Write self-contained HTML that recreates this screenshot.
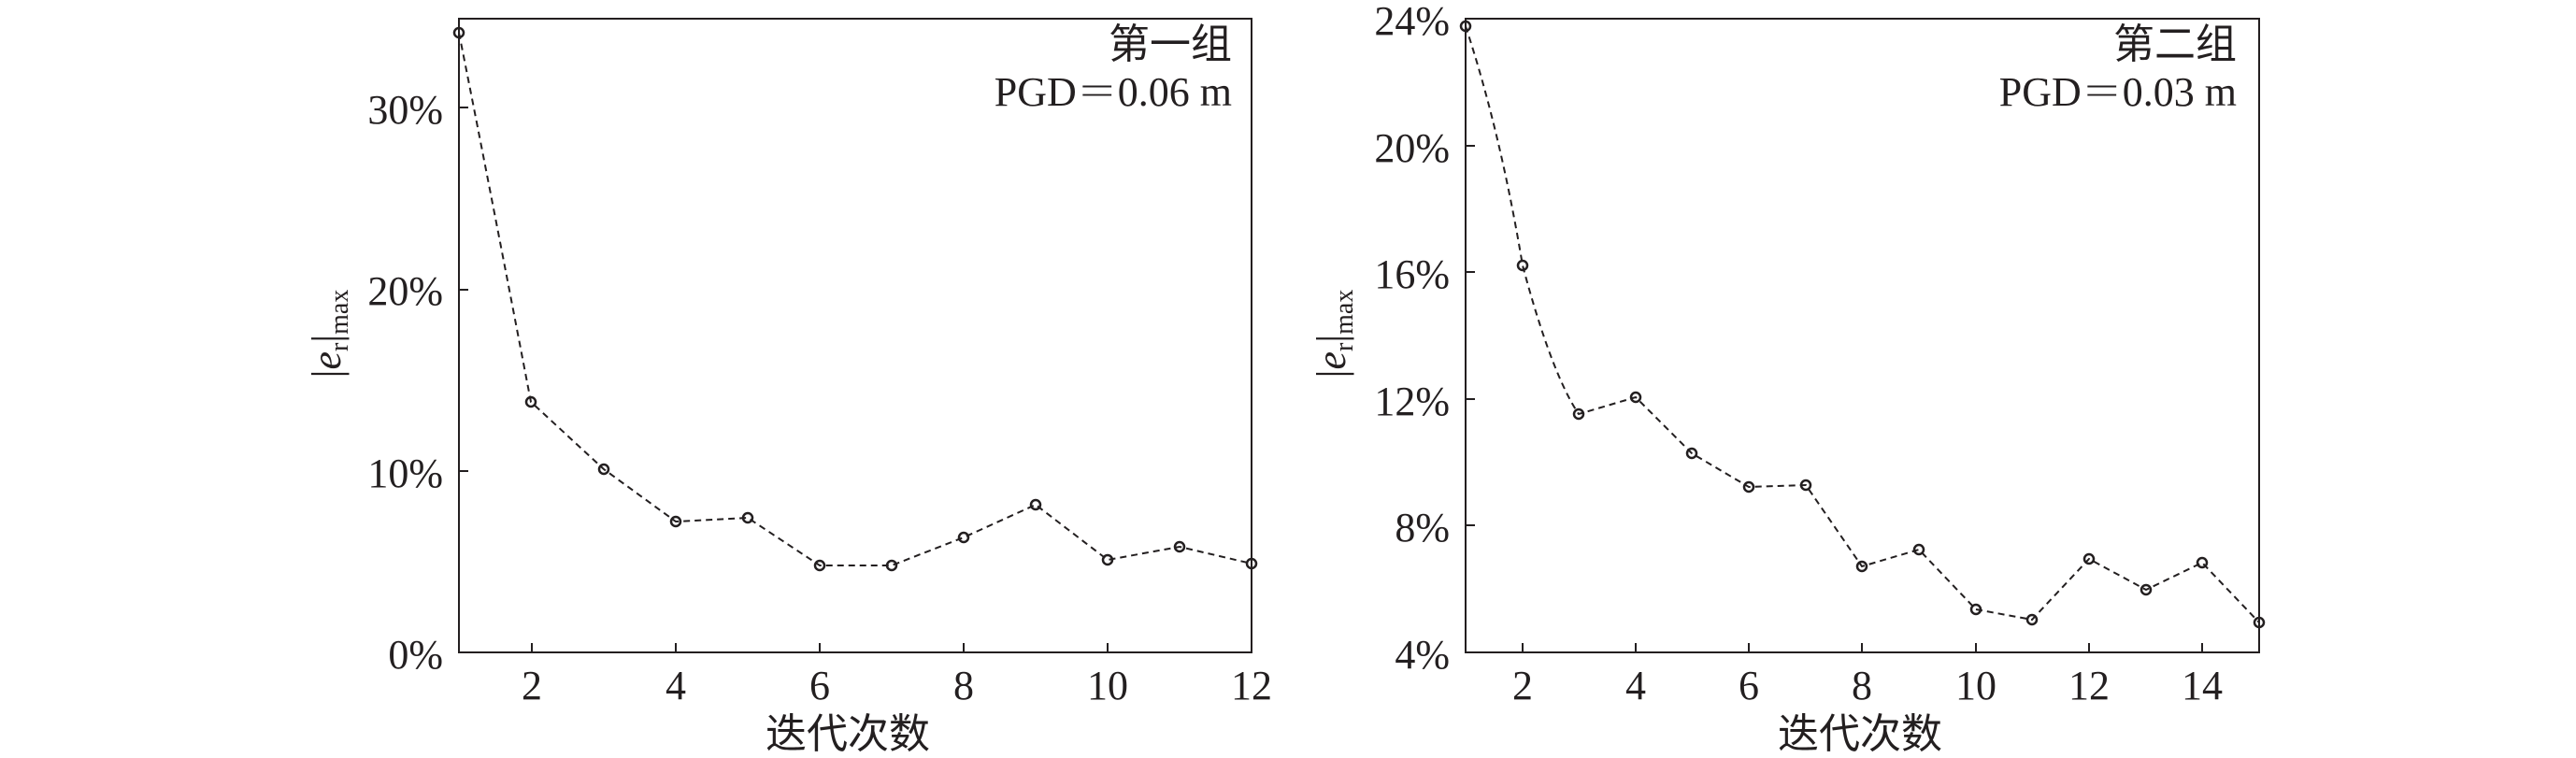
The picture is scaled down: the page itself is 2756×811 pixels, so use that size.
<!DOCTYPE html>
<html><head><meta charset="utf-8"><style>
html,body{margin:0;padding:0;background:#fff;}
svg{display:block;}
text{font-family:"Liberation Serif","Noto Serif CJK SC",serif;fill:#231f20;}
.cj{font-family:"Liberation Serif","Noto Sans CJK SC",sans-serif;}
</style></head><body>
<svg width="2756" height="811" viewBox="0 0 2756 811" xmlns="http://www.w3.org/2000/svg">
<g stroke="#231f20" fill="none">
<!-- chart 1 -->
<rect x="491" y="20" width="848" height="678" stroke-width="2"/>
<g stroke-width="2">
<path d="M491 115h10M491 310h10M491 504h10"/>
<path d="M569 698v-10M723 698v-10M877 698v-10M1031 698v-10M1185 698v-10"/>
</g>
<path stroke-width="2" stroke-dasharray="7,5" d="M491 35 Q520 180 568 430 L646 502 L723 558 L800 554 L877 605 L954 605 L1031 575 L1108 540 L1185 599 L1262 585 L1339 603"/>
<g stroke-width="2.5">
<circle cx="491" cy="35" r="5"/><circle cx="568" cy="430" r="5"/><circle cx="646" cy="502" r="5"/><circle cx="723" cy="558" r="5"/><circle cx="800" cy="554" r="5"/><circle cx="877" cy="605" r="5"/><circle cx="954" cy="605" r="5"/><circle cx="1031" cy="575" r="5"/><circle cx="1108" cy="540" r="5"/><circle cx="1185" cy="599" r="5"/><circle cx="1262" cy="585" r="5"/><circle cx="1339" cy="603" r="5"/>
</g>
<!-- chart 2 -->
<rect x="1568" y="20" width="849" height="678" stroke-width="2"/>
<g stroke-width="2">
<path d="M1568 156h10M1568 291h10M1568 427h10M1568 562h10"/>
<path d="M1629 698v-10M1750 698v-10M1871 698v-10M1992 698v-10M2114 698v-10M2235 698v-10M2356 698v-10"/>
</g>
<path stroke-width="2" stroke-dasharray="7,5" d="M1568 28 Q1605 140 1629 284 Q1660 400 1689 443 L1750 425 L1810 485 L1871 521 L1932 519 L1992 606 L2053 588 L2114 652 L2174 663 L2235 598 L2296 631 L2356 602 L2417 666"/>
<g stroke-width="2.5">
<circle cx="1568" cy="28" r="5"/><circle cx="1629" cy="284" r="5"/><circle cx="1689" cy="443" r="5"/><circle cx="1750" cy="425" r="5"/><circle cx="1810" cy="485" r="5"/><circle cx="1871" cy="521" r="5"/><circle cx="1932" cy="519" r="5"/><circle cx="1992" cy="606" r="5"/><circle cx="2053" cy="588" r="5"/><circle cx="2114" cy="652" r="5"/><circle cx="2174" cy="663" r="5"/><circle cx="2235" cy="598" r="5"/><circle cx="2296" cy="631" r="5"/><circle cx="2356" cy="602" r="5"/><circle cx="2417" cy="666" r="5"/>
</g>
</g>
<g font-size="44">
<g text-anchor="end">
<text x="474" y="715">0%</text><text x="474" y="521">10%</text><text x="474" y="326">20%</text><text x="474" y="132">30%</text>
<text x="1551" y="715">4%</text><text x="1551" y="579">8%</text><text x="1551" y="444">12%</text><text x="1551" y="308">16%</text><text x="1551" y="173">20%</text><text x="1551" y="37">24%</text>
</g>
<g text-anchor="middle">
<text x="569" y="748">2</text><text x="723" y="748">4</text><text x="877" y="748">6</text><text x="1031" y="748">8</text><text x="1185" y="748">10</text><text x="1339" y="748">12</text>
<text x="1629" y="748">2</text><text x="1750" y="748">4</text><text x="1871" y="748">6</text><text x="1992" y="748">8</text><text x="2114" y="748">10</text><text x="2235" y="748">12</text><text x="2356" y="748">14</text>
<text class="cj" x="907" y="800">迭代次数</text>
<text class="cj" x="1990" y="800">迭代次数</text>
</g>
<g text-anchor="end">
<text class="cj" x="1318" y="62">第一组</text>
<text x="1318" y="113">PGD＝0.06 m</text>
<text class="cj" x="2393" y="62">第二组</text>
<text x="2393" y="113">PGD＝0.03 m</text>
</g>
<text transform="translate(364,357) rotate(-90)" text-anchor="middle">|<tspan font-style="italic">e</tspan><tspan font-size="28" dy="8">r</tspan><tspan dy="-8">|</tspan><tspan font-size="28" dy="8">max</tspan></text>
<text transform="translate(1439,357) rotate(-90)" text-anchor="middle">|<tspan font-style="italic">e</tspan><tspan font-size="28" dy="8">r</tspan><tspan dy="-8">|</tspan><tspan font-size="28" dy="8">max</tspan></text>
</g>
</svg>
</body></html>
